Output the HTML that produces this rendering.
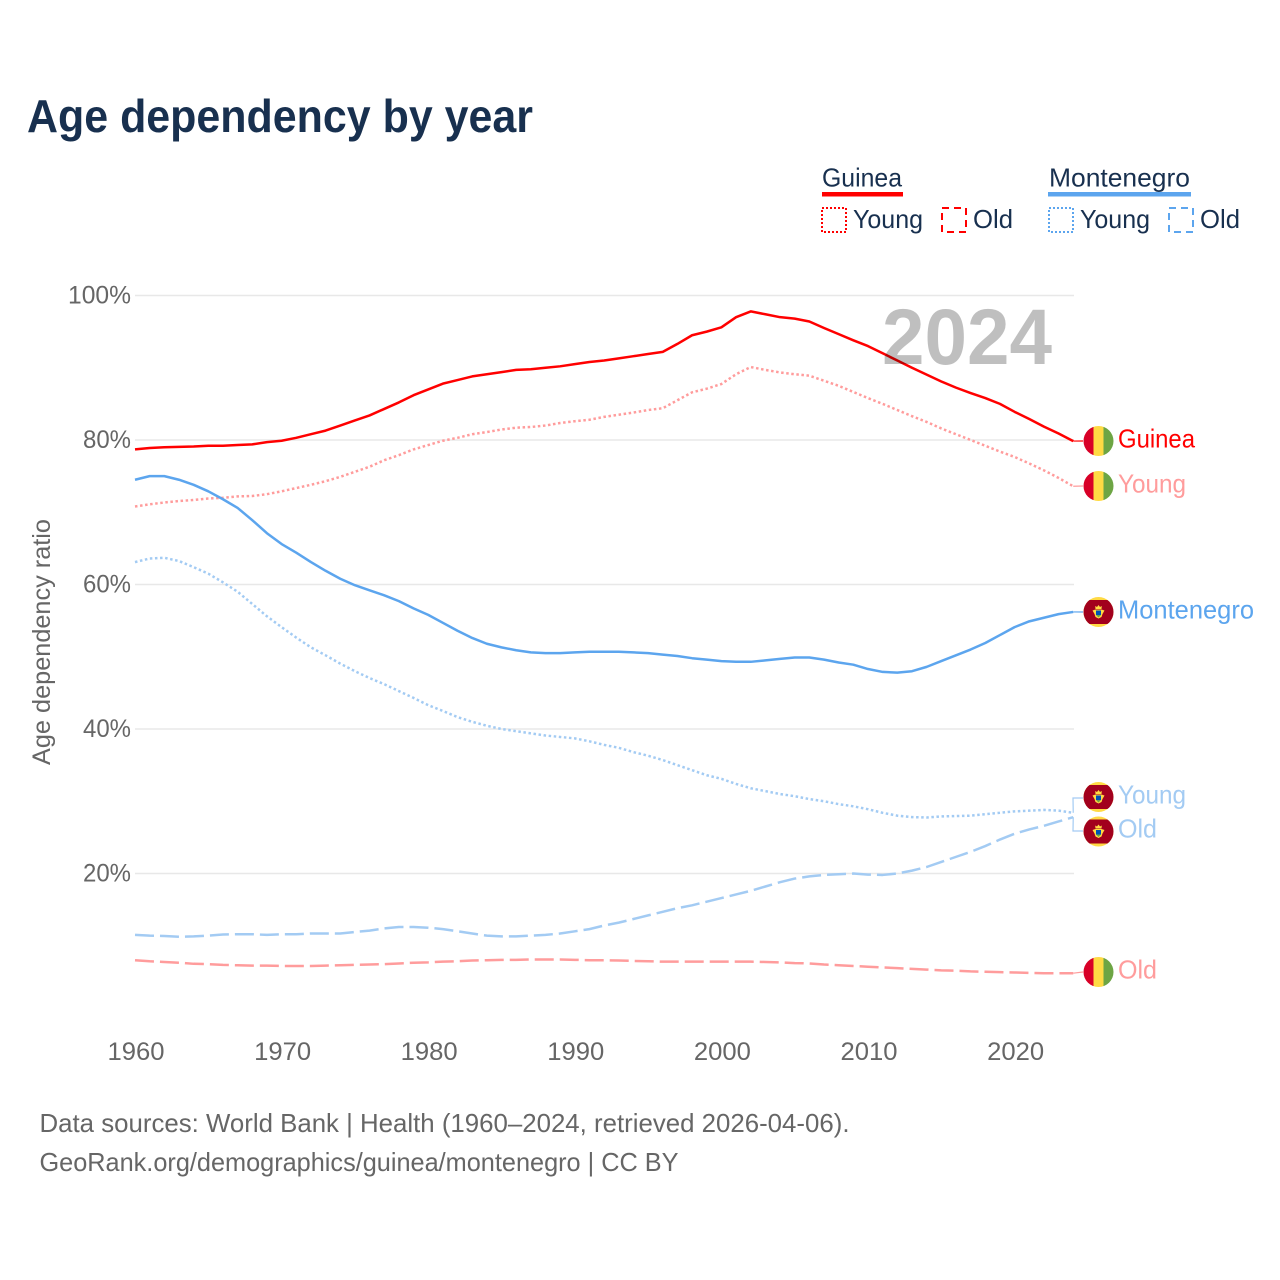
<!DOCTYPE html>
<html lang="en">
<head>
<meta charset="utf-8">
<title>Age dependency by year</title>
<style>
html,body{margin:0;padding:0;background:#fff;}
#chart{display:block;width:1280px;height:1280px;font-family:"Liberation Sans",sans-serif;}
</style>
</head>
<body>
<svg id="chart" xmlns="http://www.w3.org/2000/svg" width="1280" height="1280" viewBox="0 0 1280 1280">
  <defs>
    <clipPath id="flag-clip"><circle cx="0" cy="0" r="15"></circle></clipPath>
  </defs>
  <rect x="0" y="0" width="1280" height="1280" fill="#ffffff"></rect>
  <text x="27" y="132" font-size="46" font-weight="700" fill="#18304f" textLength="506" lengthAdjust="spacingAndGlyphs">Age dependency by year</text>

  <g>
    <text x="822" y="186.5" font-size="26" fill="#18304f" textLength="80" lengthAdjust="spacingAndGlyphs">Guinea</text>
    <rect x="822" y="192" width="81" height="4.5" fill="#ff0000"></rect>
    <rect x="822" y="208" width="24" height="24" fill="none" stroke="#ff0000" stroke-width="2" stroke-dasharray="2 2"></rect>
    <text x="853" y="228" font-size="26" fill="#18304f" textLength="70" lengthAdjust="spacingAndGlyphs">Young</text>
    <rect x="942" y="208" width="24" height="24" fill="none" stroke="#ff0000" stroke-width="2" stroke-dasharray="7 5"></rect>
    <text x="973" y="228" font-size="26" fill="#18304f" textLength="40" lengthAdjust="spacingAndGlyphs">Old</text>
    <text x="1049" y="186.5" font-size="26" fill="#18304f" textLength="141" lengthAdjust="spacingAndGlyphs">Montenegro</text>
    <rect x="1048" y="192" width="143" height="4.5" fill="#5ca5ee"></rect>
    <rect x="1049" y="208" width="24" height="24" fill="none" stroke="#5ca5ee" stroke-width="2" stroke-dasharray="2 2"></rect>
    <text x="1080" y="228" font-size="26" fill="#18304f" textLength="70" lengthAdjust="spacingAndGlyphs">Young</text>
    <rect x="1169" y="208" width="24" height="24" fill="none" stroke="#5ca5ee" stroke-width="2" stroke-dasharray="7 5"></rect>
    <text x="1200" y="228" font-size="26" fill="#18304f" textLength="40" lengthAdjust="spacingAndGlyphs">Old</text>
  </g>

  <text transform="translate(50,765) rotate(-90)" x="0" y="0" font-size="25" fill="#666666" textLength="246" lengthAdjust="spacingAndGlyphs">Age dependency ratio</text>
  <g id="grid"></g>
  <g id="x-ticks"></g>
  <g id="y-ticks"></g>
  <g id="series"></g>
  <g id="connectors"></g>
  <g id="flags"></g>
  <g id="end-labels"></g>
  <text x="882" y="364" font-size="79" font-weight="700" fill="#000000" fill-opacity="0.25" textLength="170" lengthAdjust="spacingAndGlyphs">2024</text>

  <text x="39.5" y="1132" font-size="26" fill="#666666" textLength="810" lengthAdjust="spacingAndGlyphs">Data sources: World Bank | Health (1960–2024, retrieved 2026-04-06).</text>
  <text x="39.5" y="1171" font-size="26" fill="#666666" textLength="639" lengthAdjust="spacingAndGlyphs">GeoRank.org/demographics/guinea/montenegro | CC BY</text>
</svg>

<script>
const startYear = 1960;
const xTickYears = [1960, 1970, 1980, 1990, 2000, 2010, 2020];
const yTickValues = [20, 40, 60, 80, 100];

const guineaTotal = [
  78.7,78.9,79.0,79.05,79.1,79.2,79.2,79.3,79.4,79.7,
  79.9,80.3,80.8,81.3,82.0,82.7,83.4,84.3,85.2,86.2,
  87.0,87.8,88.3,88.8,89.1,89.4,89.7,89.8,90.0,90.2,
  90.5,90.8,91.0,91.3,91.6,91.9,92.2,93.3,94.5,95.0,
  95.6,97.0,97.8,97.4,97.0,96.8,96.4,95.5,94.65,93.8,
  93.0,92.0,91.0,90.0,89.05,88.1,87.25,86.5,85.8,85.0,
  83.9,82.9,81.85,80.9,79.85
];
const guineaYoung = [
  70.8,71.1,71.35,71.55,71.7,71.9,72.0,72.2,72.25,72.5,
  72.9,73.35,73.8,74.3,74.9,75.6,76.3,77.2,77.9,78.7,
  79.3,79.9,80.3,80.8,81.1,81.45,81.7,81.8,82.0,82.35,
  82.6,82.8,83.2,83.5,83.8,84.15,84.4,85.5,86.6,87.1,
  87.75,89.1,90.1,89.7,89.35,89.1,88.9,88.2,87.5,86.65,
  85.8,85.0,84.15,83.3,82.5,81.6,80.8,80.0,79.2,78.4,
  77.65,76.75,75.8,74.75,73.6
];
const guineaOld = [
  8.0,7.85,7.75,7.65,7.5,7.45,7.35,7.3,7.25,7.25,
  7.2,7.2,7.2,7.25,7.3,7.35,7.4,7.45,7.55,7.65,
  7.7,7.8,7.85,7.95,8.0,8.05,8.05,8.1,8.1,8.1,
  8.05,8.0,8.0,7.95,7.9,7.85,7.8,7.8,7.8,7.8,
  7.8,7.8,7.8,7.75,7.7,7.6,7.55,7.4,7.3,7.2,
  7.1,7.0,6.9,6.8,6.7,6.6,6.55,6.45,6.4,6.35,
  6.3,6.25,6.2,6.2,6.2
];
const montenegroTotal = [
  74.5,75.0,75.0,74.5,73.8,72.9,71.8,70.6,68.9,67.1,
  65.6,64.4,63.1,61.9,60.8,59.9,59.2,58.5,57.7,56.7,
  55.8,54.7,53.6,52.6,51.8,51.3,50.9,50.6,50.5,50.5,
  50.6,50.7,50.7,50.7,50.6,50.5,50.3,50.1,49.8,49.6,
  49.4,49.3,49.3,49.5,49.7,49.9,49.9,49.6,49.2,48.9,
  48.3,47.9,47.8,48.0,48.6,49.4,50.2,51.0,51.9,53.0,
  54.1,54.9,55.4,55.9,56.2
];
const montenegroYoung = [
  63.1,63.6,63.7,63.25,62.4,61.5,60.3,59.0,57.3,55.6,
  54.1,52.65,51.3,50.2,49.05,48.0,47.05,46.2,45.25,44.3,
  43.3,42.5,41.65,41.0,40.45,40.0,39.7,39.4,39.1,38.9,
  38.7,38.3,37.8,37.4,36.8,36.3,35.7,35.0,34.3,33.6,
  33.1,32.4,31.8,31.4,31.0,30.7,30.3,30.0,29.6,29.3,
  28.9,28.4,28.0,27.8,27.75,27.9,27.95,28.0,28.2,28.4,
  28.6,28.7,28.8,28.7,28.4
];
const montenegroOld = [
  11.5,11.4,11.35,11.25,11.3,11.4,11.55,11.6,11.6,11.5,
  11.6,11.6,11.7,11.7,11.7,11.9,12.1,12.4,12.6,12.6,
  12.5,12.3,12.0,11.7,11.4,11.3,11.3,11.4,11.5,11.7,
  12.0,12.3,12.8,13.2,13.7,14.2,14.7,15.2,15.6,16.1,
  16.6,17.1,17.6,18.2,18.8,19.3,19.6,19.8,19.9,20.0,
  19.85,19.8,20.0,20.4,20.9,21.6,22.3,23.0,23.8,24.7,
  25.5,26.1,26.6,27.2,27.8
];

const NS = 'http://www.w3.org/2000/svg';
const xScale = function (year) { return 135 + (year - 1960) * 14.66; };
const yScale = function (value) { return 1018 - value * 7.225; };
const lastX = xScale(2024);

function make(tag, parent, attrs) {
  const el = document.createElementNS(NS, tag);
  Object.keys(attrs).forEach(function (k) { el.setAttribute(k, attrs[k]); });
  parent.appendChild(el);
  return el;
}

const gridG = document.getElementById('grid');
const yTicksG = document.getElementById('y-ticks');
yTickValues.forEach(function (v) {
  const line = make('line', gridG, { x1: 135, x2: 1074, y1: yScale(v), y2: yScale(v), stroke: '#e8e8e8', 'stroke-width': 1.5 });
  
  
  const label = make('text', yTicksG, { x: 131, y: yScale(v) + 8, 'font-size': 25, fill: '#666666', 'text-anchor': 'end', textLength: (v === 100 ? 63 : 48), lengthAdjust: 'spacingAndGlyphs' });
  
  
  label.textContent = v + '%';
});

const xTicksG = document.getElementById('x-ticks');
xTickYears.forEach(function (yr) {
  const label = make('text', xTicksG, { x: xScale(yr) + 1, y: 1060, 'font-size': 25, fill: '#666666', 'text-anchor': 'middle', textLength: 57, lengthAdjust: 'spacingAndGlyphs' });
  
  
  label.textContent = String(yr);
});

function drawSeries(values, name, color, dash) {
  const d = values.map(function (v, i) {
    return (i ? 'L' : 'M') + xScale(startYear + i).toFixed(2) + ',' + yScale(v).toFixed(2);
  }).join(' ');
  const path = make('path', document.getElementById('series'), { d: d, fill: 'none', stroke: color, 'stroke-width': 2.5, 'stroke-linejoin': 'round' });
  if (dash) path.setAttribute('stroke-dasharray', dash);
  
  
}

const RED = '#ff0000', BLUE = '#5ca5ee', LRED = '#ff9c9c', LBLUE = '#a3cbf3';
const DOT = '2.5 2.6', DASH = '19 6';
drawSeries(montenegroOld, 'line-montenegro-old', LBLUE, DASH);
drawSeries(guineaOld, 'line-guinea-old', LRED, DASH);
drawSeries(montenegroYoung, 'line-montenegro-young', LBLUE, DOT);
drawSeries(guineaYoung, 'line-guinea-young', LRED, DOT);
drawSeries(montenegroTotal, 'line-montenegro-total', BLUE, '');
drawSeries(guineaTotal, 'line-guinea-total', RED, '');

function connector(points, color, name) {
  const line = make('polyline', document.getElementById('connectors'), { points: points, fill: 'none', stroke: color, 'stroke-width': 1.2 });
  
  
}
function last(arr) { return yScale(arr[arr.length - 1]); }
connector(lastX + ',' + last(guineaTotal) + ' 1083,441', RED, 'connector-guinea-total');
connector(lastX + ',' + last(guineaYoung) + ' 1083,486', LRED, 'connector-guinea-young');
connector(lastX + ',' + last(montenegroTotal) + ' 1083,612', BLUE, 'connector-montenegro-total');
connector(lastX + ',' + last(guineaOld) + ' 1083,972', LRED, 'connector-guinea-old');
connector(lastX + ',' + last(montenegroYoung) + ' 1073,798 1083,798', LBLUE, 'connector-montenegro-young');
connector(lastX + ',' + last(montenegroOld) + ' 1073,831 1083,831', LBLUE, 'connector-montenegro-old');

function guineaFlag(cy, name) {
  const g = make('g', document.getElementById('flags'), { transform: 'translate(1098.5,' + cy + ')', 'clip-path': 'url(#flag-clip)' });
  
  
  make('rect', g, { x: -15, y: -15, width: 10, height: 30, fill: '#d80027' });
  make('rect', g, { x: -5, y: -15, width: 10, height: 30, fill: '#ffda44' });
  make('rect', g, { x: 5, y: -15, width: 10, height: 30, fill: '#6da544' });
}
function montenegroFlag(cy, name) {
  const g = make('g', document.getElementById('flags'), { transform: 'translate(1098.5,' + cy + ')', 'clip-path': 'url(#flag-clip)' });
  
  
  make('rect', g, { x: -15, y: -15, width: 30, height: 30, fill: '#ffda44' });
  make('rect', g, { x: -15, y: -12, width: 30, height: 24, fill: '#a2001d' });
  make('path', g, { d: 'M-3,-3 L-3.3,-6 L-1.5,-5 L0,-7 L1.5,-5 L3.3,-6 L3,-3 Z', fill: '#ffda44' });
  make('path', g, { d: 'M-6,-1.5 L-3,-2.5 L3,-2.5 L6,-1.5 L4,2 L3,5 L0,6.5 L-3,5 L-4,2 Z', fill: '#ffda44' });
  make('rect', g, { x: -2.5, y: -1.5, width: 5, height: 4.5, fill: '#0052b4' });
  make('path', g, { d: 'M-2.5,3 L2.5,3 L0,5.5 Z', fill: '#6da544' });
}
guineaFlag(441, 'flag-guinea-total');
guineaFlag(486, 'flag-guinea-young');
guineaFlag(972, 'flag-guinea-old');
montenegroFlag(612, 'flag-montenegro-total');
montenegroFlag(797, 'flag-montenegro-young');
montenegroFlag(831.5, 'flag-montenegro-old');

function endLabel(str, y, color, w, name) {
  const t = make('text', document.getElementById('end-labels'), { x: 1118, y: y, 'font-size': 26, fill: color, textLength: w, lengthAdjust: 'spacingAndGlyphs' });
  
  
  t.textContent = str;
}
endLabel('Guinea', 447.5, RED, 77, 'label-guinea-total');
endLabel('Young', 492.5, LRED, 68, 'label-guinea-young');
endLabel('Montenegro', 618.5, BLUE, 136, 'label-montenegro-total');
endLabel('Young', 803.5, LBLUE, 68, 'label-montenegro-young');
endLabel('Old', 837.5, LBLUE, 39, 'label-montenegro-old');
endLabel('Old', 978.5, LRED, 39, 'label-guinea-old');
</script>
</body>
</html>
